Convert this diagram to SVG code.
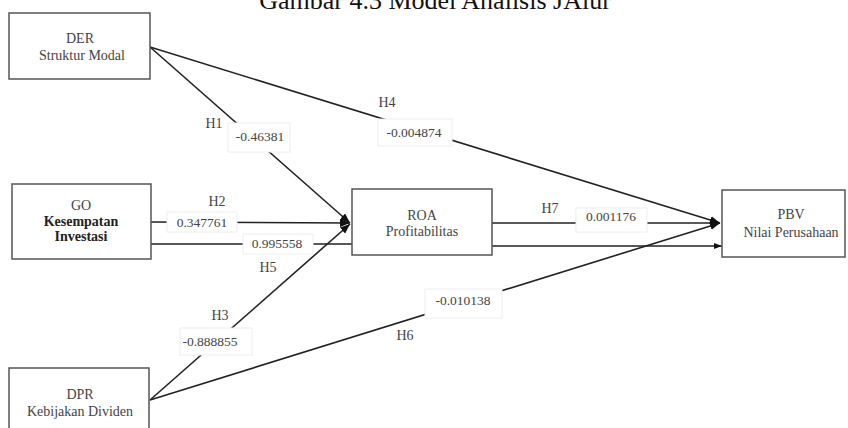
<svg xmlns="http://www.w3.org/2000/svg" width="848" height="428" viewBox="0 0 848 428">
<defs>
<style>
.box{fill:#fff;stroke:#555;stroke-width:1.5}
.nt{font-family:"Liberation Serif","Times New Roman",serif;font-size:14px;fill:#444;text-anchor:middle}
.b{font-weight:bold;fill:#222}
.ln{stroke:#222;stroke-width:1.6;fill:none}
.lb{fill:#fff;stroke:#eee;stroke-width:1}
.lt{font-family:"Liberation Serif","Times New Roman",serif;font-size:13.5px;fill:#444;text-anchor:middle}
.h{font-family:"Liberation Serif","Times New Roman",serif;font-size:14px;fill:#444;text-anchor:middle}
</style>
<marker id="ah" markerUnits="userSpaceOnUse" markerWidth="10" markerHeight="8" viewBox="0 0 10 8" refX="10" refY="4" orient="auto">
<path d="M0,0 L10,4 L0,8 z" fill="#111"/>
</marker>
<marker id="as" markerUnits="userSpaceOnUse" markerWidth="8" markerHeight="6" viewBox="0 0 8 6" refX="8" refY="3" orient="auto">
<path d="M0,0 L8,3 L0,6 z" fill="#111"/>
</marker>
</defs>
<rect width="848" height="428" fill="#fff"/>
<text x="435" y="9" font-family="Liberation Serif, Times New Roman, serif" font-size="26" text-anchor="middle" fill="#111">Gambar 4.3 Model Analisis JAlur</text>

<g id="connectors">
<line class="ln" x1="150" y1="47" x2="350" y2="223" marker-end="url(#ah)"/>
<line class="ln" x1="151" y1="222" x2="350" y2="223" marker-end="url(#ah)"/>
<line class="ln" x1="150" y1="400" x2="350" y2="224" marker-end="url(#ah)"/>
<line class="ln" x1="151" y1="244" x2="352" y2="244"/>
<line class="ln" x1="150" y1="47" x2="720" y2="223" marker-end="url(#ah)"/>
<line class="ln" x1="150" y1="400" x2="720" y2="223" marker-end="url(#ah)"/>
<line class="ln" x1="492" y1="223" x2="720" y2="223" marker-end="url(#ah)"/>
<line class="ln" x1="492" y1="246" x2="722" y2="246" marker-end="url(#as)"/>

<rect class="lb" x="228" y="123" width="62" height="29"/>
<text class="lt" x="260" y="141">-0.46381</text>
<rect class="lb" x="167" y="212" width="70" height="20"/>
<text class="lt" x="202" y="227">0.347761</text>
<rect class="lb" x="243" y="234" width="70" height="20"/>
<text class="lt" x="277" y="248">0.995558</text>
<rect class="lb" x="180" y="328" width="72" height="27"/>
<text class="lt" x="210" y="346">-0.888855</text>
<rect class="lb" x="378" y="119" width="74" height="27"/>
<text class="lt" x="414" y="137">-0.004874</text>
<rect class="lb" x="425" y="289" width="77" height="29"/>
<text class="lt" x="463" y="305">-0.010138</text>
<rect class="lb" x="576" y="208" width="71" height="24"/>
<text class="lt" x="611" y="221">0.001176</text>

<text class="h" x="214" y="128">H1</text>
<text class="h" x="217" y="206">H2</text>
<text class="h" x="220" y="320">H3</text>
<text class="h" x="268" y="272">H5</text>
<text class="h" x="387" y="107">H4</text>
<text class="h" x="405" y="340">H6</text>
<text class="h" x="550" y="213">H7</text>
</g>

<g id="der">
<rect class="box" x="9" y="13" width="141" height="66"/>
<text class="nt" x="80" y="43">DER</text>
<text class="nt" x="82" y="60">Struktur Modal</text>
</g>
<g id="go">
<rect class="box" x="12" y="184" width="139" height="75"/>
<text class="nt" x="81" y="210">GO</text>
<text class="nt b" x="81" y="226">Kesempatan</text>
<text class="nt b" x="81" y="241">Investasi</text>
</g>
<g id="dpr">
<rect class="box" x="9" y="368" width="140" height="64"/>
<text class="nt" x="80" y="399">DPR</text>
<text class="nt" x="80" y="416">Kebijakan Dividen</text>
</g>
<g id="roa">
<rect class="box" x="352" y="189" width="140" height="66"/>
<text class="nt" x="422" y="220">ROA</text>
<text class="nt" x="422" y="236">Profitabilitas</text>
</g>
<g id="pbv">
<rect class="box" x="722" y="190" width="123" height="67"/>
<text class="nt" x="791" y="219">PBV</text>
<text class="nt" x="791" y="237">Nilai Perusahaan</text>
</g>
</svg>
